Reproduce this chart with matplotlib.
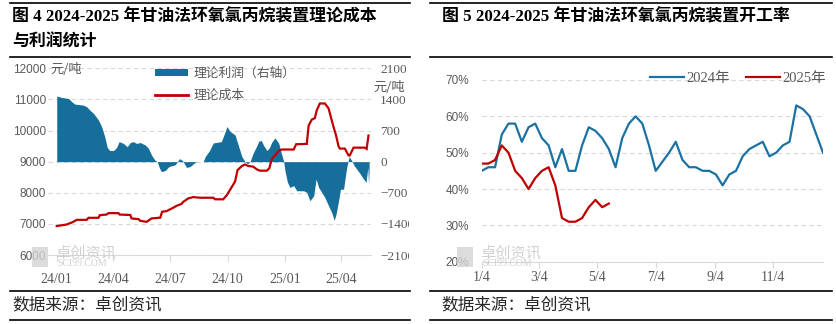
import matplotlib
matplotlib.use("Agg")
import matplotlib.pyplot as plt
import matplotlib.dates as mdates
import pandas as pd
from matplotlib.lines import Line2D
from matplotlib.patches import Rectangle, Patch
from matplotlib.transforms import Bbox, TransformedBbox

plt.rcParams["font.family"] = ["Noto Sans CJK SC", "DejaVu Sans"]

# ---------------- data ----------------
# Theoretical cost (left axis, yuan/ton)
cost_dates = [
    "2024-01-01", "2024-01-17", "2024-01-27", "2024-02-02", "2024-02-18", "2024-02-21",
    "2024-03-08", "2024-03-10", "2024-03-21", "2024-03-24", "2024-04-09", "2024-04-11",
    "2024-04-28", "2024-04-30", "2024-05-11", "2024-05-14", "2024-05-24", "2024-06-01",
    "2024-06-15", "2024-06-18", "2024-06-25", "2024-07-06", "2024-07-11", "2024-07-19",
    "2024-07-22", "2024-07-30", "2024-08-07", "2024-08-18", "2024-09-08", "2024-09-11",
    "2024-09-24", "2024-09-30", "2024-10-08", "2024-10-13", "2024-10-17", "2024-10-24",
    "2024-10-29", "2024-11-03", "2024-11-11", "2024-11-17", "2024-11-22", "2024-12-03",
    "2024-12-07", "2024-12-11", "2024-12-16", "2024-12-22", "2024-12-27", "2025-01-15",
    "2025-01-19", "2025-02-05", "2025-02-08", "2025-02-13", "2025-02-18", "2025-02-21",
    "2025-02-26", "2025-03-06", "2025-03-12", "2025-03-17", "2025-03-20", "2025-03-24",
    "2025-03-28", "2025-03-30", "2025-04-07", "2025-04-13", "2025-04-15", "2025-04-21",
    "2025-05-09", "2025-05-12", "2025-05-15",
]
cost_values = [
    6930, 6980, 7060, 7130, 7130, 7195,
    7195, 7280, 7300, 7345, 7345, 7300,
    7285, 7175, 7155, 7100, 7065, 7175,
    7200, 7390, 7410, 7520, 7580, 7640,
    7710, 7820, 7860, 7840, 7840, 7790,
    7790, 7930, 8195, 8360, 8730, 8860,
    8910, 8860, 8840, 8750, 8710, 8710,
    8790, 9090, 9200, 9350, 9390, 9390,
    9560, 9570, 10160, 10350, 10400, 10650,
    10870, 10870, 10710, 10330, 10110, 9840,
    9490, 9420, 9420, 9200, 9200, 9450,
    9450, 9410, 9840,
]

# Theoretical profit (right axis, yuan/ton)
profit_dates = [
    "2024-01-01", "2024-01-09", "2024-01-20", "2024-01-25", "2024-01-30", "2024-02-13",
    "2024-02-18", "2024-02-23", "2024-02-29", "2024-03-08", "2024-03-13", "2024-03-18",
    "2024-03-22", "2024-03-26", "2024-04-01", "2024-04-06", "2024-04-10", "2024-04-17",
    "2024-04-23", "2024-04-28", "2024-05-03", "2024-05-08", "2024-05-14", "2024-05-22",
    "2024-05-27", "2024-06-01", "2024-06-06", "2024-06-10", "2024-06-14", "2024-06-17",
    "2024-06-23", "2024-06-29", "2024-07-09", "2024-07-16", "2024-07-21", "2024-07-27",
    "2024-08-02", "2024-08-07", "2024-08-12", "2024-08-23", "2024-08-26", "2024-09-02",
    "2024-09-08", "2024-09-21", "2024-09-27", "2024-09-30", "2024-10-05", "2024-10-13",
    "2024-10-18", "2024-10-24", "2024-10-29", "2024-11-02", "2024-11-06", "2024-11-11",
    "2024-11-17", "2024-11-20", "2024-11-24", "2024-11-28", "2024-12-03", "2024-12-07",
    "2024-12-11", "2024-12-16", "2024-12-22", "2024-12-25", "2024-12-30", "2025-01-01",
    "2025-01-05", "2025-01-09", "2025-01-15", "2025-01-20", "2025-01-31", "2025-02-05",
    "2025-02-10", "2025-02-16", "2025-02-20", "2025-02-24", "2025-03-01", "2025-03-06",
    "2025-03-12", "2025-03-17", "2025-03-21", "2025-03-24", "2025-03-28", "2025-03-31",
    "2025-04-05", "2025-04-10", "2025-04-14", "2025-04-18", "2025-04-22", "2025-04-26",
    "2025-05-02", "2025-05-07", "2025-05-11", "2025-05-14", "2025-05-15", "2025-05-16",
]
profit_values = [
    1475, 1445, 1420, 1350, 1295, 1270,
    1235, 1160, 1085, 935, 785, 560,
    320, 250, 250, 320, 450, 410,
    335, 430, 450, 410, 430, 375,
    300, 150, 40, 0, -150, -225,
    -200, -110, -70, 70, 20, -130,
    -110, -50, 0, 0, 110, 250,
    420, 450, 670, 790, 680, 600,
    375, 110, 0, -50, 0, 190,
    360, 460, 475, 360, 250, 310,
    440, 535, 415, 250, 0, -200,
    -465, -580, -540, -655, -655, -690,
    -880, -770, -390, -580, -690, -805,
    -995, -1145, -1320, -1180, -880, -620,
    -620, -130, 115, 25, -90, -165,
    -280, -390, -465, -130, -505, -200,
]

left_xticks = ["2024-01-01", "2024-04-01", "2024-07-01", "2024-10-01", "2025-01-01", "2025-04-01"]
left_xlabels = ["24/01", "24/04", "24/07", "24/10", "25/01", "25/04"]
cost_ticks = [6000, 7000, 8000, 9000, 10000, 11000, 12000]
profit_ticks = [-2100, -1400, -700, 0, 700, 1400, 2100]

# Weekly operating rate (%), weeks starting 1/4
rate_2024 = [45, 46, 46, 55, 58, 58, 53, 57, 58, 54,
             52, 46, 51, 45, 45, 52, 57, 56, 54, 51,
             46, 54, 58, 60, 58, 52, 45, 47.5, 50, 53,
             48, 46, 46, 45, 45, 44, 41, 44, 45, 49,
             51, 52, 53, 49, 50, 52, 53, 63, 62, 60,
             55, 50]
rate_2025 = [47, 47, 48, 52, 50, 45, 43, 40, 43, 45,
             46, 41, 32, 31, 31, 32, 35, 37, 35, 36]
right_xticks = ["2024-01-04", "2024-03-04", "2024-05-04", "2024-07-04", "2024-09-04", "2024-11-04"]
right_xlabels = ["1/4", "3/4", "5/4", "7/4", "9/4", "11/4"]
rate_ticks = [20, 30, 40, 50, 60, 70]

# ---------------- style ----------------
BLUE = "#166e9b"
BLUE_LINE = "#1b72a2"
RED = "#c00000"
GRID = "#d9d9d9"
TXT = "#595959"
SERIF = ["Liberation Serif", "Noto Sans CJK SC"]
SANS = ["Liberation Sans", "Noto Sans CJK SC"]

W, H = 837, 324
fig = plt.figure(figsize=(W / 100, H / 100), dpi=100)


def fx(px):
    return px / W


def fy(py):
    return 1 - py / H


def hline(x0, x1, y, lw=1.2):
    fig.add_artist(Line2D([fx(x0), fx(x1)], [fy(y), fy(y)], color="black", lw=lw))


# ---------------- left panel ----------------
L, R, T, B = 48, 371, 68.3, 255
axp = fig.add_axes([fx(L), fy(B), fx(R) - fx(L), fy(T) - fy(B)])
axc = axp.twinx()

pd_dates = mdates.date2num(pd.to_datetime(profit_dates))
axp.fill_between(pd_dates, profit_values, 0, color=BLUE, linewidth=0, interpolate=True)
axc.plot(mdates.date2num(pd.to_datetime(cost_dates)), cost_values, color=RED, lw=1.6,
         solid_joinstyle="miter")

axp.set_ylim(-2100, 2100)
axc.set_ylim(6000, 12000)
axp.set_xlim(mdates.date2num(pd.Timestamp("2023-12-18")), mdates.date2num(pd.Timestamp("2025-05-19")))

axp.yaxis.tick_right()
axc.yaxis.tick_left()
axp.set_yticks(profit_ticks)
axc.set_yticks(cost_ticks)
axp.set_yticklabels([f"{v}".replace("-", "\u2212") for v in profit_ticks], family=SERIF, fontsize=9.5, color=TXT)
axc.set_yticklabels([str(v) for v in cost_ticks], family=SANS, fontsize=8.5, color=TXT)
axp.tick_params(axis="y", length=0, pad=6.5)
axc.tick_params(axis="y", length=0, pad=1.5)

axp.set_xticks(mdates.date2num(pd.to_datetime(left_xticks)))
axp.set_xticklabels(left_xlabels, family=SERIF, fontsize=10, color=TXT)
axp.tick_params(axis="x", length=4, width=0.8, color=GRID, pad=9)

axp.yaxis.grid(True, linestyle=(0, (4, 3)), color=GRID, lw=0.8)
axp.set_axisbelow(True)
for ax in (axp, axc):
    for s in ("top", "left", "right"):
        ax.spines[s].set_visible(False)
    ax.spines["bottom"].set_color(GRID)
axc.spines["bottom"].set_visible(False)

# right-hand labels run past the panel edge
clip = TransformedBbox(Bbox.from_extents(0, 0, fx(409), 1), fig.transFigure)
for tk in axp.yaxis.get_major_ticks():
    tk.label2.set_clip_on(True)
    tk.label2.set_clip_box(clip)

fig.text(fx(50), fy(69), "元/吨", fontsize=9.5, color=TXT, va="center", ha="left")
fig.text(fx(373), fy(87), "元/吨", fontsize=9.5, color=TXT, va="center", ha="left")

leg_handles = [Patch(facecolor=BLUE, edgecolor="none"), Line2D([], [], color=RED, lw=2)]
axp.legend(leg_handles, ["理论利润（右轴）", "理论成本"], loc="upper left",
           bbox_to_anchor=(fx(155), fy(67)), bbox_transform=fig.transFigure,
           frameon=False, fontsize=9.2, labelcolor=TXT, handlelength=2.6, handleheight=0.5,
           handletextpad=0.4, labelspacing=0.7, borderpad=0, borderaxespad=0)

# ---------------- right panel ----------------
RL, RR, RT, RB = 481.7, 823, 80, 261.7
axr = fig.add_axes([fx(RL), fy(RB), fx(RR) - fx(RL), fy(RT) - fy(RB)])
weeks = mdates.date2num(pd.date_range("2024-01-04", periods=len(rate_2024), freq="7D"))
axr.plot(weeks, rate_2024, color=BLUE_LINE, lw=1.6, label="2024年")
axr.plot(weeks[:len(rate_2025)], rate_2025, color=RED, lw=1.6, label="2025年")
axr.set_xlim(weeks[0], weeks[-1])
axr.set_ylim(20, 70)
axr.set_yticks(rate_ticks)
axr.set_yticklabels([f"{v}%" for v in rate_ticks], family=SANS, fontsize=8.5, color=TXT)
axr.tick_params(axis="y", length=0, pad=9)
axr.set_xticks(mdates.date2num(pd.to_datetime(right_xticks)))
axr.set_xticklabels(right_xlabels, family=SERIF, fontsize=10, color=TXT)
axr.tick_params(axis="x", length=4, width=0.8, color=GRID, pad=3)
axr.yaxis.grid(True, linestyle=(0, (4, 3)), color=GRID, lw=0.8)
axr.set_axisbelow(True)
for s in ("top", "left", "right"):
    axr.spines[s].set_visible(False)
axr.spines["bottom"].set_color(GRID)
axr.legend(loc="upper left", bbox_to_anchor=(fx(650), fy(72)), bbox_transform=fig.transFigure,
           ncol=2, frameon=False, prop={"family": SERIF, "size": 10.5}, labelcolor=TXT,
           handlelength=2.3, handletextpad=0.2, columnspacing=1.1, borderpad=0, borderaxespad=0)

# ---------------- titles, rules, source ----------------
hline(10, 410, 3)
hline(10, 410, 56.5)
hline(430, 832, 3)
hline(430, 832, 56.5)
hline(10, 410, 291)
hline(10, 410, 319.5)
hline(430, 832, 291)
hline(430, 832, 319.5)

fig.text(fx(12), fy(17), "图 4 2024-2025 年甘油法环氧氯丙烷装置理论成本", family=SERIF,
         fontsize=12.2, fontweight="bold", va="center", ha="left", color="black")
fig.text(fx(12), fy(43), "与利润统计", family=SERIF, fontsize=12.2, fontweight="bold",
         va="center", ha="left", color="black")
fig.text(fx(441.7), fy(17), "图 5 2024-2025 年甘油法环氧氯丙烷装置开工率", family=SERIF,
         fontsize=12.2, fontweight="bold", va="center", ha="left", color="black")
fig.text(fx(12), fy(305), "数据来源：卓创资讯", fontsize=12, va="center", ha="left", color="#262626")
fig.text(fx(441), fy(305), "数据来源：卓创资讯", fontsize=12, va="center", ha="left", color="#262626")

# brand watermark
for lx, tx in ((32, 55), (457, 480)):
    fig.add_artist(Rectangle((fx(lx), fy(267)), fx(16), 20 / H, color="#d4d4d4", lw=0,
                             transform=fig.transFigure, alpha=0.8))
    fig.text(fx(tx), fy(253), "卓创资讯", fontsize=11, color="#cccccc", va="center", ha="left", alpha=0.9)
    fig.text(fx(tx + 2), fy(264), "SCI99.COM", family=SERIF, fontsize=7, color="#cccccc",
             va="center", ha="left", alpha=0.9)

fig.savefig("out.png", dpi=100)
